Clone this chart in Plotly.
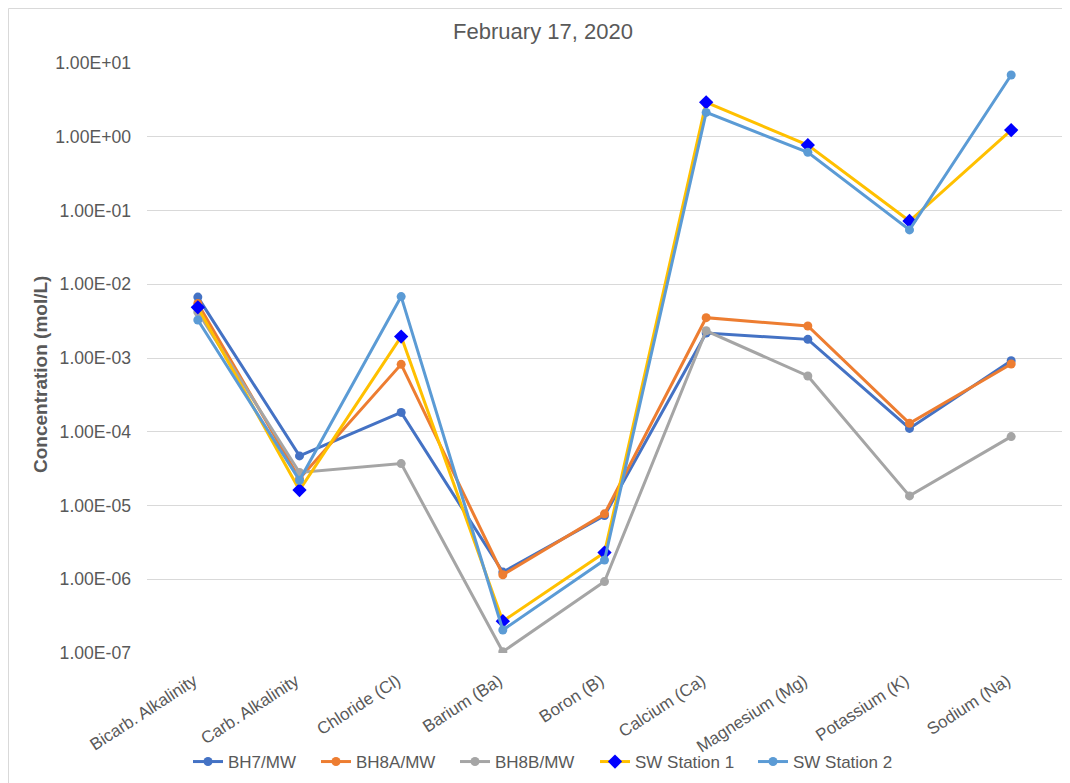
import plotly.graph_objects as go

categories = ["Bicarb. Alkalinity", "Carb. Alkalinity", "Chloride (Cl)", "Barium (Ba)",
              "Boron (B)", "Calcium (Ca)", "Magnesium (Mg)", "Potassium (K)", "Sodium (Na)"]

bh7_mw = [6.7e-3, 4.7e-5, 1.83e-4, 1.25e-6, 7.3e-6, 2.18e-3, 1.79e-3, 1.11e-4, 9.2e-4]
bh8a_mw = [5.5e-3, 2.3e-5, 8.2e-4, 1.15e-6, 7.7e-6, 3.52e-3, 2.72e-3, 1.30e-4, 8.3e-4]
bh8b_mw = [4.2e-3, 2.8e-5, 3.7e-5, 1.04e-7, 9.3e-7, 2.34e-3, 5.7e-4, 1.35e-5, 8.6e-5]
sw_station_1 = [4.86e-3, 1.62e-5, 1.95e-3, 2.7e-7, 2.3e-6, 2.93, 0.77, 0.072, 1.23]
sw_station_2 = [3.27e-3, 2.2e-5, 6.8e-3, 2.05e-7, 1.82e-6, 2.14, 0.615, 0.0545, 6.87]

tick_vals = [1e1, 1e0, 1e-1, 1e-2, 1e-3, 1e-4, 1e-5, 1e-6, 1e-7]
tick_text = ["1.00E+01", "1.00E+00", "1.00E-01", "1.00E-02", "1.00E-03",
             "1.00E-04", "1.00E-05", "1.00E-06", "1.00E-07"]

FONT = "Liberation Sans, Arial, sans-serif"
GRAY = "#595959"

# the page body adds an 8px margin; work in window pixels and convert
OFF = 8
W, H = 1070 - OFF, 783 - OFF
L = 147 - OFF
T = 63 - OFF
R = W - (1062 - OFF)
B = H - (653 - OFF)
pw = W - L - R
ph = H - T - B

def cx(p):  # window px -> container fraction
    return (p - OFF) / W

def cy(p):
    return 1 - (p - OFF) / H

def px_x(p):  # window px -> paper fraction
    return (p - OFF - L) / pw

def px_y(p):
    return (H - B - (p - OFF)) / ph

fig = go.Figure()

legend_line_starts = [193, 321, 460, 600, 758]
series = [
    ("BH7/MW", bh7_mw, "#4472C4", "#4472C4", "circle", 9),
    ("BH8A/MW", bh8a_mw, "#ED7D31", "#ED7D31", "circle", 9),
    ("BH8B/MW", bh8b_mw, "#A5A5A5", "#A5A5A5", "circle", 9),
    ("SW Station 1", sw_station_1, "#FFC000", "#0000FF", "diamond", 11),
    ("SW Station 2", sw_station_2, "#5B9BD5", "#5B9BD5", "circle", 9),
]

legends = {}
for i, (name, y, lc, mc, sym, ms) in enumerate(series):
    lg = "legend" if i == 0 else f"legend{i + 1}"
    fig.add_trace(go.Scatter(
        x=categories, y=y, name=name, mode="lines+markers", legend=lg,
        line=dict(color=lc, width=3),
        marker=dict(color=mc, symbol=sym, size=ms, line=dict(width=0)),
    ))
    legends[lg] = dict(orientation="h", xref="container", x=cx(legend_line_starts[i] - 5),
                       xanchor="left", yref="container", y=cy(762), yanchor="middle",
                       font=dict(size=17, color=GRAY, family=FONT),
                       itemwidth=30, bgcolor="rgba(0,0,0,0)", borderwidth=0)

fig.update_layout(
    width=W, height=H,
    margin=dict(l=L, r=R, t=T, b=B, autoexpand=False),
    paper_bgcolor="white", plot_bgcolor="white",
    font=dict(family=FONT, color=GRAY, size=16),
    title=dict(text="February 17, 2020", xref="container", x=cx(543), xanchor="center",
               yref="container", y=cy(31), yanchor="middle",
               font=dict(size=22, color=GRAY, family=FONT)),
    showlegend=True,
    xaxis=dict(type="category", range=[-0.5, len(categories) - 0.5],
               showgrid=False, showline=False, zeroline=False, automargin=False,
               tickangle=-33, ticks="", ticklabelstandoff=14, ticklabelshift=-4,
               tickfont=dict(size=17, color=GRAY, family=FONT)),
    yaxis=dict(type="log", range=[-7, 1], tickvals=tick_vals, ticktext=tick_text,
               showgrid=True, gridcolor="#D9D9D9", gridwidth=1, automargin=False,
               showline=False, zeroline=False, ticks="",
               ticklabelstandoff=15,
               tickfont=dict(size=17.6, color=GRAY, family=FONT)),
    annotations=[dict(text="<b>Concentration (mol/L)</b>", textangle=-90,
                      xref="paper", yref="paper", x=px_x(40), y=px_y(375),
                      xanchor="center", yanchor="middle", showarrow=False,
                      font=dict(size=19, color=GRAY, family=FONT))],
    shapes=[dict(type="rect", xref="paper", yref="paper",
                 x0=px_x(OFF + 0.5), x1=px_x(1100), y0=px_y(820), y1=px_y(OFF + 0.5),
                 line=dict(color="#D9D9D9", width=1), fillcolor="rgba(0,0,0,0)",
                 layer="below")],
    **legends,
)

fig.write_html("out.html")
